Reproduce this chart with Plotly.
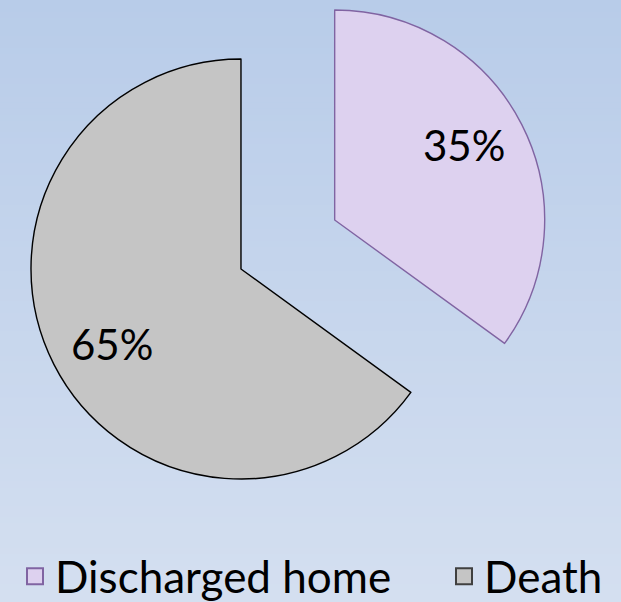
import math
import plotly.graph_objects as go

labels = ["Discharged home", "Death"]
values = [35, 65]
colors = ["#ddd1ef", "#c5c5c5"]
line_colors = ["#8064a2", "#000000"]
legend_line_colors = ["#8064a2", "#404040"]

W, H = 621, 602
FONT = "Lato"

# domains: index 0 -> pulled-out "Discharged home", index 1 -> "Death"
domains = [
    dict(x=[0.2008, 0.8771], y=[0.2857, 0.9834]),
    dict(x=[0.0499, 0.7262], y=[0.2043, 0.9020]),
]

fig = go.Figure()

for i in (1, 0):
    fills = ["rgba(0,0,0,0)"] * len(values)
    lines = ["rgba(0,0,0,0)"] * len(values)
    fills[i] = colors[i]
    lines[i] = line_colors[i]
    fig.add_trace(go.Pie(
        labels=labels, values=values, sort=False, direction="clockwise", rotation=0,
        marker=dict(colors=fills, line=dict(color=lines, width=1.4)),
        textinfo="none",
        domain=domains[i],
        showlegend=False, hoverinfo="label+percent",
    ))

# percentage labels, positioned from the values along each slice
total = sum(values)
annotations = []
cum = 0
for i, v in enumerate(values):
    mid = (cum + v / 2) / total * 360 - 3
    cum += v
    d = domains[i]
    cx = (d["x"][0] + d["x"][1]) / 2 * W
    cy = (1 - (d["y"][0] + d["y"][1]) / 2) * H
    r = min((d["x"][1] - d["x"][0]) * W, (d["y"][1] - d["y"][0]) * H) / 2
    tx = cx + 0.71 * r * math.sin(math.radians(mid))
    ty = cy - 0.71 * r * math.cos(math.radians(mid))
    annotations.append(dict(x=tx / W, y=1 - ty / H, xref="paper", yref="paper",
                            text="%d%%" % round(100 * v / total), showarrow=False,
                            font=dict(family=FONT, size=42, color="black"),
                            xanchor="center", yanchor="middle"))

# legend entries
legend_x = [0.0242, 0.715]
for k, (lab, c, lc) in enumerate(zip(labels, colors, legend_line_colors)):
    fig.add_trace(go.Scatter(x=[None], y=[None], mode="markers", name=lab,
                             legend="legend" if k == 0 else "legend2",
                             marker=dict(symbol="square", size=16, color=c,
                                         line=dict(color=lc, width=2))))

# background gradient
top = (184, 204, 233)
bot = (212, 223, 240)
N = 100
shapes = []
for i in range(N):
    t = i / (N - 1)
    c = tuple(round(top[k] + (bot[k] - top[k]) * t) for k in range(3))
    shapes.append(dict(type="rect", xref="paper", yref="paper", x0=0, x1=1,
                       y0=1 - (i + 1) / N - 0.002, y1=1 - i / N,
                       fillcolor="rgb(%d,%d,%d)" % c, line=dict(width=0), layer="below"))

leg_common = dict(orientation="h", y=0.042, yanchor="middle", xanchor="left",
                  font=dict(family=FONT, size=44, color="black"),
                  bgcolor="rgba(0,0,0,0)")
fig.update_layout(
    width=W, height=H, margin=dict(l=0, r=0, t=0, b=0, autoexpand=False),
    paper_bgcolor="rgb(212,223,240)", plot_bgcolor="rgba(0,0,0,0)",
    shapes=shapes, annotations=annotations,
    xaxis=dict(visible=False), yaxis=dict(visible=False),
    legend=dict(x=legend_x[0], **leg_common),
    legend2=dict(x=legend_x[1], **leg_common),
    font=dict(family=FONT),
)

fig.write_html("out.html", config={"displayModeBar": False},
               post_script="document.body.style.margin='0';")
